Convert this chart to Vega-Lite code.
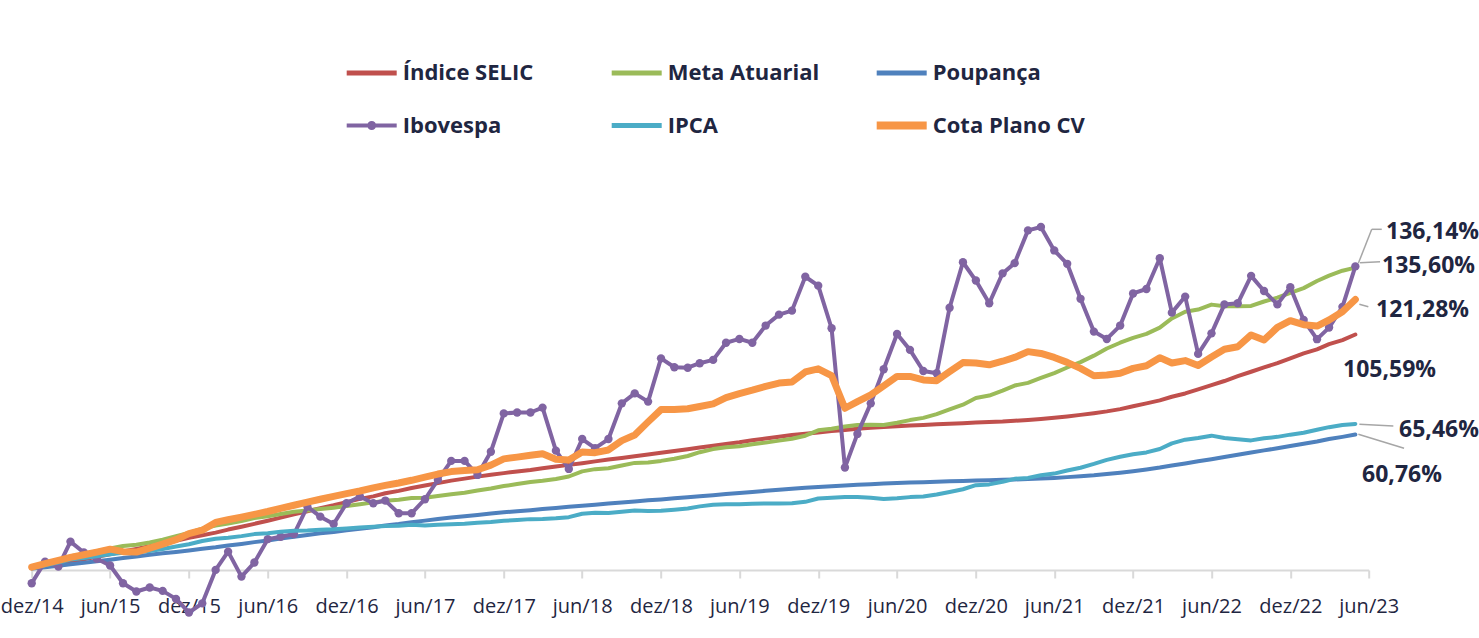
{
  "$schema": "https://vega.github.io/schema/vega-lite/v6.json",
  "width": 1337,
  "height": 379,
  "autosize": {"type": "none"},
  "padding": {"left": 31.7, "top": 235.5, "right": 110.3, "bottom": 23.5},
  "background": "white",
  "config": {"view": {"stroke": null}, "font": "Open Sans"},
  "datasets": {
    "series": [
      {"mes":"2014-12-01","selic":0.96,"meta":1.1,"poupanca":0.60,"ibovespa":-6.0,"ipca":0.78,"cota":1.2},
      {"mes":"2015-01-01","selic":1.91,"meta":2.7,"poupanca":1.21,"ibovespa":3.7,"ipca":2.03,"cota":2.8},
      {"mes":"2015-02-01","selic":2.75,"meta":4.4,"poupanca":1.85,"ibovespa":1.5,"ipca":3.27,"cota":4.3},
      {"mes":"2015-03-01","selic":3.82,"meta":6.1,"poupanca":2.50,"ibovespa":12.7,"ipca":4.64,"cota":5.6},
      {"mes":"2015-04-01","selic":4.80,"meta":7.2,"poupanca":3.17,"ibovespa":7.8,"ipca":5.38,"cota":6.8},
      {"mes":"2015-05-01","selic":5.84,"meta":8.4,"poupanca":3.86,"ibovespa":5.0,"ipca":6.16,"cota":8.0},
      {"mes":"2015-06-01","selic":6.97,"meta":9.6,"poupanca":4.57,"ibovespa":2.0,"ipca":7.00,"cota":9.3},
      {"mes":"2015-07-01","selic":8.23,"meta":10.7,"poupanca":5.30,"ibovespa":-6.0,"ipca":7.66,"cota":8.2},
      {"mes":"2015-08-01","selic":9.43,"meta":11.3,"poupanca":6.04,"ibovespa":-9.7,"ipca":7.90,"cota":8.0},
      {"mes":"2015-09-01","selic":10.65,"meta":12.3,"poupanca":6.76,"ibovespa":-7.9,"ipca":8.48,"cota":9.8},
      {"mes":"2015-10-01","selic":11.88,"meta":13.6,"poupanca":7.48,"ibovespa":-9.4,"ipca":9.37,"cota":11.6},
      {"mes":"2015-11-01","selic":13.06,"meta":15.1,"poupanca":8.05,"ibovespa":-13.0,"ipca":10.47,"cota":13.6},
      {"mes":"2015-12-01","selic":14.37,"meta":16.6,"poupanca":8.72,"ibovespa":-19.1,"ipca":11.53,"cota":16.3},
      {"mes":"2016-01-01","selic":15.58,"meta":18.5,"poupanca":9.45,"ibovespa":-15.0,"ipca":12.95,"cota":17.8},
      {"mes":"2016-02-01","selic":16.74,"meta":19.9,"poupanca":10.14,"ibovespa":0.0,"ipca":13.97,"cota":21.3},
      {"mes":"2016-03-01","selic":18.09,"meta":20.8,"poupanca":10.93,"ibovespa":8.2,"ipca":14.46,"cota":22.5},
      {"mes":"2016-04-01","selic":19.34,"meta":21.9,"poupanca":11.67,"ibovespa":-3.0,"ipca":15.16,"cota":23.7},
      {"mes":"2016-05-01","selic":20.67,"meta":23.3,"poupanca":12.46,"ibovespa":3.3,"ipca":16.06,"cota":24.9},
      {"mes":"2016-06-01","selic":22.07,"meta":24.1,"poupanca":13.24,"ibovespa":13.8,"ipca":16.46,"cota":26.2},
      {"mes":"2016-07-01","selic":23.43,"meta":25.1,"poupanca":14.03,"ibovespa":14.9,"ipca":17.07,"cota":27.6},
      {"mes":"2016-08-01","selic":24.94,"meta":26.1,"poupanca":14.87,"ibovespa":16.1,"ipca":17.58,"cota":29.0},
      {"mes":"2016-09-01","selic":26.33,"meta":26.6,"poupanca":15.65,"ibovespa":28.4,"ipca":17.67,"cota":30.4},
      {"mes":"2016-10-01","selic":27.66,"meta":27.3,"poupanca":16.41,"ibovespa":23.9,"ipca":17.98,"cota":31.7},
      {"mes":"2016-11-01","selic":28.98,"meta":27.9,"poupanca":17.04,"ibovespa":20.6,"ipca":18.19,"cota":33.0},
      {"mes":"2016-12-01","selic":30.43,"meta":28.7,"poupanca":17.75,"ibovespa":29.9,"ipca":18.55,"cota":34.2},
      {"mes":"2017-01-01","selic":31.85,"meta":29.5,"poupanca":18.51,"ibovespa":32.9,"ipca":19.00,"cota":35.4},
      {"mes":"2017-02-01","selic":33.00,"meta":30.3,"poupanca":19.18,"ibovespa":29.9,"ipca":19.39,"cota":36.8},
      {"mes":"2017-03-01","selic":34.40,"meta":31.0,"poupanca":19.98,"ibovespa":31.1,"ipca":19.69,"cota":37.9},
      {"mes":"2017-04-01","selic":35.46,"meta":31.5,"poupanca":20.64,"ibovespa":25.4,"ipca":19.86,"cota":39.0},
      {"mes":"2017-05-01","selic":36.72,"meta":32.3,"poupanca":21.41,"ibovespa":25.4,"ipca":20.23,"cota":40.2},
      {"mes":"2017-06-01","selic":37.83,"meta":32.4,"poupanca":22.11,"ibovespa":31.7,"ipca":19.95,"cota":41.6},
      {"mes":"2017-07-01","selic":38.93,"meta":33.2,"poupanca":22.81,"ibovespa":40.4,"ipca":20.24,"cota":43.0},
      {"mes":"2017-08-01","selic":40.04,"meta":33.9,"poupanca":23.51,"ibovespa":48.9,"ipca":20.47,"cota":44.1},
      {"mes":"2017-09-01","selic":40.94,"meta":34.6,"poupanca":24.09,"ibovespa":48.9,"ipca":20.66,"cota":44.6},
      {"mes":"2017-10-01","selic":41.84,"meta":35.6,"poupanca":24.68,"ibovespa":42.6,"ipca":21.17,"cota":44.9},
      {"mes":"2017-11-01","selic":42.65,"meta":36.5,"poupanca":25.28,"ibovespa":53.0,"ipca":21.50,"cota":47.0},
      {"mes":"2017-12-01","selic":43.42,"meta":37.6,"poupanca":25.82,"ibovespa":70.2,"ipca":22.04,"cota":49.8},
      {"mes":"2018-01-01","selic":44.15,"meta":38.5,"poupanca":26.33,"ibovespa":70.6,"ipca":22.39,"cota":50.6},
      {"mes":"2018-02-01","selic":44.81,"meta":39.4,"poupanca":26.80,"ibovespa":70.6,"ipca":22.78,"cota":51.4},
      {"mes":"2018-03-01","selic":45.59,"meta":40.0,"poupanca":27.32,"ibovespa":72.8,"ipca":22.89,"cota":52.1},
      {"mes":"2018-04-01","selic":46.36,"meta":40.8,"poupanca":27.81,"ibovespa":53.5,"ipca":23.16,"cota":49.6},
      {"mes":"2018-05-01","selic":47.12,"meta":41.9,"poupanca":28.29,"ibovespa":45.3,"ipca":23.65,"cota":49.3},
      {"mes":"2018-06-01","selic":47.88,"meta":44.2,"poupanca":28.78,"ibovespa":58.7,"ipca":25.20,"cota":52.9},
      {"mes":"2018-07-01","selic":48.69,"meta":45.2,"poupanca":29.28,"ibovespa":54.6,"ipca":25.61,"cota":52.6},
      {"mes":"2018-08-01","selic":49.49,"meta":45.6,"poupanca":29.77,"ibovespa":58.7,"ipca":25.50,"cota":53.8},
      {"mes":"2018-09-01","selic":50.22,"meta":46.8,"poupanca":30.24,"ibovespa":74.7,"ipca":26.10,"cota":58.0},
      {"mes":"2018-10-01","selic":51.00,"meta":48.0,"poupanca":30.73,"ibovespa":79.2,"ipca":26.67,"cota":60.5},
      {"mes":"2018-11-01","selic":51.75,"meta":48.2,"poupanca":31.22,"ibovespa":75.5,"ipca":26.40,"cota":66.4},
      {"mes":"2018-12-01","selic":52.55,"meta":48.9,"poupanca":31.63,"ibovespa":94.9,"ipca":26.59,"cota":71.9},
      {"mes":"2019-01-01","selic":53.36,"meta":49.9,"poupanca":32.11,"ibovespa":90.9,"ipca":27.00,"cota":72.0},
      {"mes":"2019-02-01","selic":54.10,"meta":51.1,"poupanca":32.54,"ibovespa":90.7,"ipca":27.54,"cota":72.3},
      {"mes":"2019-03-01","selic":54.88,"meta":52.8,"poupanca":33.03,"ibovespa":92.7,"ipca":28.50,"cota":73.3},
      {"mes":"2019-04-01","selic":55.67,"meta":54.2,"poupanca":33.52,"ibovespa":94.2,"ipca":29.23,"cota":74.5},
      {"mes":"2019-05-01","selic":56.49,"meta":55.0,"poupanca":34.02,"ibovespa":101.9,"ipca":29.40,"cota":77.3},
      {"mes":"2019-06-01","selic":57.23,"meta":55.5,"poupanca":34.46,"ibovespa":103.6,"ipca":29.41,"cota":79.1},
      {"mes":"2019-07-01","selic":58.13,"meta":56.4,"poupanca":34.97,"ibovespa":101.9,"ipca":29.66,"cota":80.6},
      {"mes":"2019-08-01","selic":58.94,"meta":57.1,"poupanca":35.48,"ibovespa":109.6,"ipca":29.80,"cota":82.3},
      {"mes":"2019-09-01","selic":59.69,"meta":58.0,"poupanca":35.97,"ibovespa":114.5,"ipca":29.75,"cota":83.8},
      {"mes":"2019-10-01","selic":60.48,"meta":58.8,"poupanca":36.44,"ibovespa":116.3,"ipca":29.88,"cota":84.3},
      {"mes":"2019-11-01","selic":61.08,"meta":60.2,"poupanca":36.83,"ibovespa":131.5,"ipca":30.54,"cota":88.8},
      {"mes":"2019-12-01","selic":61.64,"meta":62.6,"poupanca":37.21,"ibovespa":127.5,"ipca":32.04,"cota":90.2},
      {"mes":"2020-01-01","selic":62.26,"meta":63.3,"poupanca":37.57,"ibovespa":108.4,"ipca":32.32,"cota":87.2},
      {"mes":"2020-02-01","selic":62.73,"meta":64.3,"poupanca":37.88,"ibovespa":45.9,"ipca":32.65,"cota":72.5},
      {"mes":"2020-03-01","selic":63.28,"meta":65.0,"poupanca":38.18,"ibovespa":61.0,"ipca":32.74,"cota":75.5},
      {"mes":"2020-04-01","selic":63.74,"meta":65.1,"poupanca":38.47,"ibovespa":74.7,"ipca":32.33,"cota":78.5},
      {"mes":"2020-05-01","selic":64.13,"meta":65.0,"poupanca":38.73,"ibovespa":90.0,"ipca":31.83,"cota":82.5},
      {"mes":"2020-06-01","selic":64.47,"meta":66.0,"poupanca":38.96,"ibovespa":105.8,"ipca":32.17,"cota":86.8},
      {"mes":"2020-07-01","selic":64.78,"meta":67.2,"poupanca":39.17,"ibovespa":98.7,"ipca":32.65,"cota":86.8},
      {"mes":"2020-08-01","selic":65.04,"meta":68.2,"poupanca":39.37,"ibovespa":89.2,"ipca":32.97,"cota":85.2},
      {"mes":"2020-09-01","selic":65.31,"meta":69.9,"poupanca":39.55,"ibovespa":88.2,"ipca":33.82,"cota":84.9},
      {"mes":"2020-10-01","selic":65.57,"meta":72.0,"poupanca":39.73,"ibovespa":117.6,"ipca":34.97,"cota":88.9},
      {"mes":"2020-11-01","selic":65.82,"meta":74.1,"poupanca":39.90,"ibovespa":138.0,"ipca":36.17,"cota":93.0},
      {"mes":"2020-12-01","selic":66.09,"meta":77.1,"poupanca":40.06,"ibovespa":129.8,"ipca":38.01,"cota":92.8},
      {"mes":"2021-01-01","selic":66.34,"meta":78.2,"poupanca":40.23,"ibovespa":119.6,"ipca":38.36,"cota":92.0},
      {"mes":"2021-02-01","selic":66.56,"meta":80.4,"poupanca":40.40,"ibovespa":133.0,"ipca":39.55,"cota":93.6},
      {"mes":"2021-03-01","selic":66.89,"meta":82.7,"poupanca":40.58,"ibovespa":137.6,"ipca":40.84,"cota":95.3},
      {"mes":"2021-04-01","selic":67.24,"meta":83.9,"poupanca":40.79,"ibovespa":152.3,"ipca":41.28,"cota":97.9},
      {"mes":"2021-05-01","selic":67.69,"meta":86.1,"poupanca":41.02,"ibovespa":153.8,"ipca":42.45,"cota":97.1},
      {"mes":"2021-06-01","selic":68.21,"meta":88.3,"poupanca":41.28,"ibovespa":143.3,"ipca":43.21,"cota":95.3},
      {"mes":"2021-07-01","selic":68.81,"meta":90.8,"poupanca":41.62,"ibovespa":137.3,"ipca":44.58,"cota":93.1},
      {"mes":"2021-08-01","selic":69.54,"meta":93.2,"poupanca":42.00,"ibovespa":121.6,"ipca":45.84,"cota":90.4},
      {"mes":"2021-09-01","selic":70.28,"meta":96.1,"poupanca":42.42,"ibovespa":106.9,"ipca":47.53,"cota":87.1},
      {"mes":"2021-10-01","selic":71.11,"meta":99.3,"poupanca":42.98,"ibovespa":103.6,"ipca":49.37,"cota":87.4},
      {"mes":"2021-11-01","selic":72.12,"meta":101.9,"poupanca":43.60,"ibovespa":109.6,"ipca":50.79,"cota":88.2},
      {"mes":"2021-12-01","selic":73.44,"meta":104.1,"poupanca":44.25,"ibovespa":124.0,"ipca":51.89,"cota":90.4},
      {"mes":"2022-01-01","selic":74.71,"meta":105.9,"poupanca":45.05,"ibovespa":126.0,"ipca":52.71,"cota":91.6},
      {"mes":"2022-02-01","selic":76.04,"meta":108.7,"poupanca":45.92,"ibovespa":139.8,"ipca":54.25,"cota":95.2},
      {"mes":"2022-03-01","selic":77.68,"meta":112.8,"poupanca":46.84,"ibovespa":115.4,"ipca":56.75,"cota":92.8},
      {"mes":"2022-04-01","selic":79.15,"meta":115.8,"poupanca":47.77,"ibovespa":122.6,"ipca":58.41,"cota":93.9},
      {"mes":"2022-05-01","selic":81.00,"meta":116.8,"poupanca":48.73,"ibovespa":96.9,"ipca":59.15,"cota":91.7},
      {"mes":"2022-06-01","selic":82.85,"meta":119.0,"poupanca":49.67,"ibovespa":106.1,"ipca":60.22,"cota":95.5},
      {"mes":"2022-07-01","selic":84.73,"meta":118.3,"poupanca":50.66,"ibovespa":119.1,"ipca":59.13,"cota":99.0},
      {"mes":"2022-08-01","selic":86.89,"meta":118.3,"poupanca":51.68,"ibovespa":119.6,"ipca":58.56,"cota":100.1},
      {"mes":"2022-09-01","selic":88.89,"meta":118.4,"poupanca":52.65,"ibovespa":131.9,"ipca":58.10,"cota":105.4},
      {"mes":"2022-10-01","selic":90.82,"meta":120.4,"poupanca":53.61,"ibovespa":125.1,"ipca":59.03,"cota":103.1},
      {"mes":"2022-11-01","selic":92.77,"meta":122.1,"poupanca":54.58,"ibovespa":119.1,"ipca":59.68,"cota":108.8},
      {"mes":"2022-12-01","selic":94.93,"meta":124.3,"poupanca":55.57,"ibovespa":126.8,"ipca":60.67,"cota":111.8},
      {"mes":"2023-01-01","selic":97.11,"meta":126.4,"poupanca":56.62,"ibovespa":112.1,"ipca":61.52,"cota":110.0},
      {"mes":"2023-02-01","selic":98.92,"meta":129.6,"poupanca":57.58,"ibovespa":103.5,"ipca":62.88,"cota":109.4},
      {"mes":"2023-03-01","selic":101.24,"meta":132.0,"poupanca":58.69,"ibovespa":108.7,"ipca":64.03,"cota":112.1},
      {"mes":"2023-04-01","selic":103.10,"meta":134.2,"poupanca":59.68,"ibovespa":118.0,"ipca":65.03,"cota":115.8},
      {"mes":"2023-05-01","selic":105.59,"meta":135.6,"poupanca":60.76,"ibovespa":136.14,"ipca":65.46,"cota":121.28}
    ],
    "rotulos": [
      {"serie":"ibovespa","mes":"2023-05-01","valor":136.14,"rotulo":"136,14%"},
      {"serie":"meta","mes":"2023-05-01","valor":135.6,"rotulo":"135,60%"},
      {"serie":"cota","mes":"2023-05-01","valor":121.28,"rotulo":"121,28%"},
      {"serie":"selic","mes":"2023-05-01","valor":105.59,"rotulo":"105,59%"},
      {"serie":"ipca","mes":"2023-05-01","valor":65.46,"rotulo":"65,46%"},
      {"serie":"poupanca","mes":"2023-05-01","valor":60.76,"rotulo":"60,76%"}
    ]
  },
  "encoding": {
    "x": {
      "field": "mes", "type": "temporal",
      "scale": {"type": "utc", "domain": [{"year": 2014, "month": 12, "date": 1, "utc": true}, {"year": 2023, "month": 6, "date": 1, "utc": true}]},
      "axis": {
        "title": null,
        "offset": -44.5,
        "grid": false,
        "values": [
          {"year": 2014, "month": 12, "date": 1, "utc": true}, {"year": 2015, "month": 6, "date": 1, "utc": true},
          {"year": 2015, "month": 12, "date": 1, "utc": true}, {"year": 2016, "month": 6, "date": 1, "utc": true},
          {"year": 2016, "month": 12, "date": 1, "utc": true}, {"year": 2017, "month": 6, "date": 1, "utc": true},
          {"year": 2017, "month": 12, "date": 1, "utc": true}, {"year": 2018, "month": 6, "date": 1, "utc": true},
          {"year": 2018, "month": 12, "date": 1, "utc": true}, {"year": 2019, "month": 6, "date": 1, "utc": true},
          {"year": 2019, "month": 12, "date": 1, "utc": true}, {"year": 2020, "month": 6, "date": 1, "utc": true},
          {"year": 2020, "month": 12, "date": 1, "utc": true}, {"year": 2021, "month": 6, "date": 1, "utc": true},
          {"year": 2021, "month": 12, "date": 1, "utc": true}, {"year": 2022, "month": 6, "date": 1, "utc": true},
          {"year": 2022, "month": 12, "date": 1, "utc": true}, {"year": 2023, "month": 6, "date": 1, "utc": true}
        ],
        "labelExpr": "(utcmonth(datum.value) == 11 ? 'dez' : 'jun') + '/' + utcFormat(datum.value, '%y')",
        "labelFont": "Open Sans",
        "labelFontSize": 20,
        "labelColor": "#1F2641",
        "labelPadding": 18,
        "labelOverlap": false,
        "labelFlush": false,
        "domainColor": "#D9D9D9",
        "domainWidth": 2,
        "tickColor": "#D9D9D9",
        "tickWidth": 2,
        "tickSize": 8
      }
    },
    "y": {
      "field": "valor", "type": "quantitative",
      "scale": {"domain": [-20, 150], "nice": false, "zero": false},
      "axis": null
    }
  },
  "layer": [
    {
      "data": {"name": "series"},
      "transform": [
        {"fold": ["selic", "meta", "poupanca", "ibovespa", "ipca", "cota"], "as": ["serie", "valor"]},
        {"filter": "datum.serie === 'selic' || datum.serie === 'meta' || datum.serie === 'poupanca'"}
      ],
      "mark": {"type": "line", "strokeWidth": 4, "strokeCap": "round", "strokeJoin": "round"},
      "encoding": {
        "color": {
          "field": "serie", "type": "nominal",
          "scale": {
            "domain": ["selic", "meta", "poupanca", "ibovespa", "ipca", "cota"],
            "range": ["#C0504D", "#9BBB59", "#4F81BD", "#8064A2", "#4BACC6", "#F79646"]
          },
          "legend": {
            "title": null,
            "orient": "none",
            "legendX": 329,
            "legendY": -176,
            "direction": "horizontal",
            "columns": 3,
            "gridAlign": "all",
            "columnPadding": 40,
            "rowPadding": 23,
            "padding": 0,
            "symbolType": "stroke",
            "symbolSize": 2500,
            "symbolStrokeWidth": 5,
            "labelFont": "Open Sans",
            "labelFontSize": 22,
            "labelFontWeight": "bold",
            "labelColor": "#1F2641",
            "labelOffset": 20,
            "labelLimit": 300,
            "labelExpr": "{'selic': 'Índice SELIC', 'meta': 'Meta Atuarial', 'poupanca': 'Poupança', 'ibovespa': 'Ibovespa', 'ipca': 'IPCA', 'cota': 'Cota Plano CV'}[datum.value]",
            "encode": {
              "symbols": {
                "update": {
                  "shape": {"signal": "datum.value === 'ibovespa' ? 'M-1,0L1,0M-0.1,0A0.1,0.1,0,1,1,0.1,0A0.1,0.1,0,1,1,-0.1,0' : 'stroke'"},
                  "strokeWidth": {"signal": "datum.value === 'cota' ? 8 : (datum.value === 'ibovespa' ? 4 : 5)"}
                }
              }
            }
          }
        }
      }
    },
    {
      "data": {"name": "series"},
      "transform": [
        {"fold": ["selic", "meta", "poupanca", "ibovespa", "ipca", "cota"], "as": ["serie", "valor"]},
        {"filter": "datum.serie === 'ibovespa'"}
      ],
      "mark": {"type": "line", "strokeWidth": 4, "strokeJoin": "round", "point": {"filled": true, "size": 70, "color": "#8064A2"}},
      "encoding": {"color": {"field": "serie", "type": "nominal"}}
    },
    {
      "data": {"name": "series"},
      "transform": [
        {"fold": ["selic", "meta", "poupanca", "ibovespa", "ipca", "cota"], "as": ["serie", "valor"]},
        {"filter": "datum.serie === 'ipca'"}
      ],
      "mark": {"type": "line", "strokeWidth": 4, "strokeCap": "round", "strokeJoin": "round"},
      "encoding": {"color": {"field": "serie", "type": "nominal"}}
    },
    {
      "data": {"name": "series"},
      "transform": [
        {"fold": ["selic", "meta", "poupanca", "ibovespa", "ipca", "cota"], "as": ["serie", "valor"]},
        {"filter": "datum.serie === 'cota'"}
      ],
      "mark": {"type": "line", "strokeWidth": 7, "strokeCap": "round", "strokeJoin": "round"},
      "encoding": {"color": {"field": "serie", "type": "nominal"}}
    },
    {
      "data": {"name": "rotulos"},
      "transform": [{"filter": "datum.serie === 'ibovespa'"}],
      "mark": {"type": "rule", "color": "#A6A6A6", "strokeWidth": 1.5, "xOffset": 3, "yOffset": -3.1, "x2Offset": 16.4, "y2Offset": -37.1},
      "encoding": {"x2": {"field": "mes"}, "y2": {"field": "valor"}}
    },
    {
      "data": {"name": "rotulos"},
      "transform": [{"filter": "datum.serie === 'ibovespa'"}],
      "mark": {"type": "rule", "color": "#A6A6A6", "strokeWidth": 1.5, "xOffset": 16.4, "yOffset": -37.1, "x2Offset": 26.4, "y2Offset": -37.1},
      "encoding": {"x2": {"field": "mes"}, "y2": {"field": "valor"}}
    },
    {
      "data": {"name": "rotulos"},
      "transform": [{"filter": "datum.serie === 'meta'"}],
      "mark": {"type": "rule", "color": "#A6A6A6", "strokeWidth": 1.5, "xOffset": 4.7, "yOffset": -4.9, "x2Offset": 24.7, "y2Offset": -5.9},
      "encoding": {"x2": {"field": "mes"}, "y2": {"field": "valor"}}
    },
    {
      "data": {"name": "rotulos"},
      "transform": [{"filter": "datum.serie === 'cota'"}],
      "mark": {"type": "rule", "color": "#A6A6A6", "strokeWidth": 1.5, "xOffset": 4, "yOffset": 4.8, "x2Offset": 13, "y2Offset": 7.2},
      "encoding": {"x2": {"field": "mes"}, "y2": {"field": "valor"}}
    },
    {
      "data": {"name": "rotulos"},
      "transform": [{"filter": "datum.serie === 'ipca'"}],
      "mark": {"type": "rule", "color": "#A6A6A6", "strokeWidth": 1.5, "xOffset": 4, "yOffset": 0.3, "x2Offset": 38, "y2Offset": 2},
      "encoding": {"x2": {"field": "mes"}, "y2": {"field": "valor"}}
    },
    {
      "data": {"name": "rotulos"},
      "transform": [{"filter": "datum.serie === 'poupanca'"}],
      "mark": {"type": "rule", "color": "#A6A6A6", "strokeWidth": 1.5, "xOffset": 3, "yOffset": -0.2, "x2Offset": 48.7, "y2Offset": 13.8},
      "encoding": {"x2": {"field": "mes"}, "y2": {"field": "valor"}}
    },
    {
      "data": {"name": "rotulos"},
      "transform": [{"filter": "datum.serie === 'ibovespa'"}],
      "mark": {"type": "text", "align": "left", "baseline": "alphabetic", "dx": 30.7, "dy": -27.4, "font": "Open Sans", "fontSize": 23, "fontWeight": "bold", "color": "#1F2641"},
      "encoding": {"text": {"field": "rotulo"}}
    },
    {
      "data": {"name": "rotulos"},
      "transform": [{"filter": "datum.serie === 'meta'"}],
      "mark": {"type": "text", "align": "left", "baseline": "alphabetic", "dx": 26.7, "dy": 5.4, "font": "Open Sans", "fontSize": 23, "fontWeight": "bold", "color": "#1F2641"},
      "encoding": {"text": {"field": "rotulo"}}
    },
    {
      "data": {"name": "rotulos"},
      "transform": [{"filter": "datum.serie === 'cota'"}],
      "mark": {"type": "text", "align": "left", "baseline": "alphabetic", "dx": 20.7, "dy": 17.5, "font": "Open Sans", "fontSize": 23, "fontWeight": "bold", "color": "#1F2641"},
      "encoding": {"text": {"field": "rotulo"}}
    },
    {
      "data": {"name": "rotulos"},
      "transform": [{"filter": "datum.serie === 'selic'"}],
      "mark": {"type": "text", "align": "left", "baseline": "alphabetic", "dx": -12.3, "dy": 42.5, "font": "Open Sans", "fontSize": 23, "fontWeight": "bold", "color": "#1F2641"},
      "encoding": {"text": {"field": "rotulo"}}
    },
    {
      "data": {"name": "rotulos"},
      "transform": [{"filter": "datum.serie === 'ipca'"}],
      "mark": {"type": "text", "align": "left", "baseline": "alphabetic", "dx": 43.7, "dy": 13, "font": "Open Sans", "fontSize": 23, "fontWeight": "bold", "color": "#1F2641"},
      "encoding": {"text": {"field": "rotulo"}}
    },
    {
      "data": {"name": "rotulos"},
      "transform": [{"filter": "datum.serie === 'poupanca'"}],
      "mark": {"type": "text", "align": "left", "baseline": "alphabetic", "dx": 6.7, "dy": 47.5, "font": "Open Sans", "fontSize": 23, "fontWeight": "bold", "color": "#1F2641"},
      "encoding": {"text": {"field": "rotulo"}}
    }
  ]
}
